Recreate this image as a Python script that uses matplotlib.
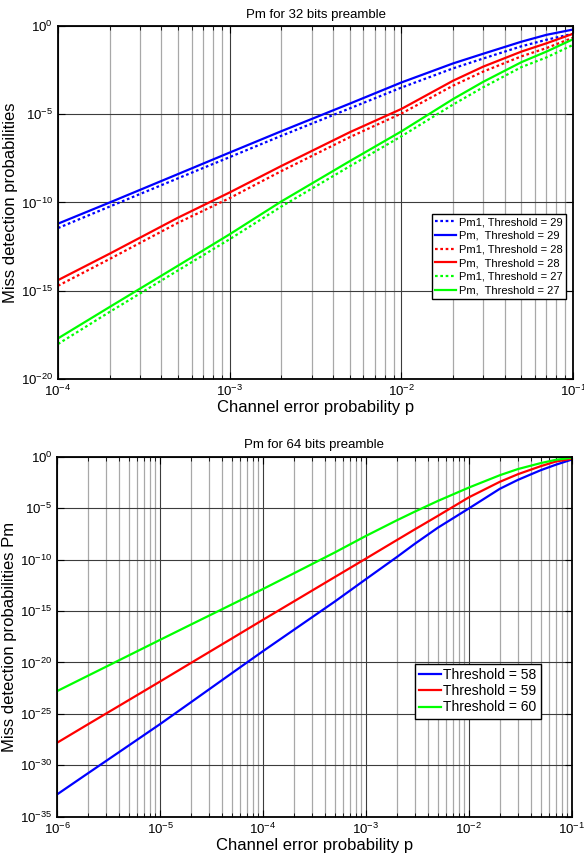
import numpy as np
import matplotlib
matplotlib.use('Agg')
import matplotlib.pyplot as plt
from matplotlib.ticker import LogLocator, NullLocator, FixedLocator

plt.rcParams['font.family'] = ['Liberation Sans', 'DejaVu Sans']
plt.rcParams['mathtext.fontset'] = 'custom'
plt.rcParams['mathtext.rm'] = 'Liberation Sans'
plt.rcParams['mathtext.it'] = 'Liberation Sans:italic'
plt.rcParams['mathtext.bf'] = 'Liberation Sans:bold'
plt.rcParams['axes.unicode_minus'] = False

# --- 32 bit preamble (values are log10 of the probability)
p32 = [1e-4, 2e-4, 5e-4, 1e-3, 2e-3, 5e-3, 1e-2, 2e-2, 3e-2, 5e-2, 7e-2, 1e-1]
pm1_t29 = [-11.45, -10.23, -8.63, -7.43, -6.22, -4.67, -3.49, -2.40, -1.84, -1.15, -0.78, -0.44]
pm_t29 = [-11.20, -10.00, -8.39, -7.17, -5.96, -4.40, -3.20, -2.12, -1.57, -0.89, -0.50, -0.20]
pm1_t28 = [-14.72, -13.20, -11.15, -9.75, -8.22, -6.30, -4.96, -3.38, -2.58, -1.72, -1.25, -0.66]
pm_t28 = [-14.40, -12.90, -10.86, -9.43, -7.93, -6.02, -4.70, -3.10, -2.30, -1.45, -0.98, -0.44]
pm1_t27 = [-18.02, -16.20, -13.85, -12.08, -10.23, -7.95, -6.25, -4.45, -3.47, -2.33, -1.78, -1.07]
pm_t27 = [-17.70, -15.92, -13.58, -11.80, -9.94, -7.66, -5.97, -4.14, -3.16, -2.05, -1.45, -0.75]

# --- 64 bit preamble
p64 = [1e-6, 2e-6, 5e-6, 1e-5, 2e-5, 5e-5, 1e-4, 2e-4, 5e-4,
       1e-3, 2e-3, 3e-3, 5e-3, 1e-2, 2e-2, 3e-2, 5e-2, 7e-2, 1e-1]
pm_t58 = [-32.82, -30.76, -28.05, -25.99, -23.86, -21.03, -18.90, -16.82, -14.07,
          -11.90, -9.75, -8.45, -6.90, -5.03, -3.12, -2.25, -1.31, -0.78, -0.28]
pm_t59 = [-27.80, -26.00, -23.64, -21.85, -20.04, -17.66, -15.85, -14.06, -11.69,
          -9.90, -8.10, -7.05, -5.75, -3.95, -2.44, -1.70, -0.92, -0.47, -0.20]
pm_t60 = [-22.78, -21.28, -19.30, -17.80, -16.31, -14.35, -12.86, -11.33, -9.30,
          -7.70, -6.18, -5.33, -4.30, -3.00, -1.80, -1.20, -0.62, -0.30, -0.10]

BLUE, RED, GREEN = '#0000ff', '#ff0000', '#00ff00'
DOT = (0, (1.2, 1.2))


def style_axes(ax, xlim, ylim, yticks):
    ax.set_xscale('log')
    ax.set_yscale('log')
    ax.set_xlim(xlim)
    ax.set_ylim(ylim)
    ax.yaxis.set_major_locator(FixedLocator(yticks))
    ax.yaxis.set_minor_locator(NullLocator())
    ax.xaxis.set_major_locator(LogLocator(base=10, numticks=20))
    ax.xaxis.set_minor_locator(LogLocator(base=10, subs=np.arange(2, 10), numticks=20))
    ax.grid(True, which='major', axis='both', color='#3c3c3c', lw=0.8)
    ax.grid(True, which='minor', axis='x', color='#a8a8a8', lw=0.9)
    ax.set_axisbelow(True)
    ax.tick_params(which='both', direction='in', top=True, right=True, labelsize=9.5)
    ax.tick_params(which='major', length=5)
    ax.tick_params(which='minor', length=3)
    for s in ax.spines.values():
        s.set_linewidth(1.3)


fig = plt.figure(figsize=(5.84, 8.58), dpi=100)

ax1 = fig.add_axes([0.0993, 0.5583, 0.882, 0.4114])
ax1.plot(p32, 10.0 ** np.array(pm1_t29), color=BLUE, ls=DOT, lw=1.6, label='Pm1, Threshold = 29')
ax1.plot(p32, 10.0 ** np.array(pm_t29), color=BLUE, lw=1.6, label='Pm,  Threshold = 29')
ax1.plot(p32, 10.0 ** np.array(pm1_t28), color=RED, ls=DOT, lw=1.6, label='Pm1, Threshold = 28')
ax1.plot(p32, 10.0 ** np.array(pm_t28), color=RED, lw=1.6, label='Pm,  Threshold = 28')
ax1.plot(p32, 10.0 ** np.array(pm1_t27), color=GREEN, ls=DOT, lw=1.6, label='Pm1, Threshold = 27')
ax1.plot(p32, 10.0 ** np.array(pm_t27), color=GREEN, lw=1.6, label='Pm,  Threshold = 27')
style_axes(ax1, (1e-4, 1e-1), (1e-20, 1e0), [1e-20, 1e-15, 1e-10, 1e-5, 1e0])
ax1.set_title('Pm for 32 bits preamble', fontsize=9.5, pad=6)
ax1.set_xlabel('Channel error probability p', fontsize=12, labelpad=1)
ax1.set_ylabel('Miss detection probabilities', fontsize=12, labelpad=2)
leg1 = ax1.legend(loc='upper right', bbox_to_anchor=(0.987, 0.468), fontsize=8,
                  frameon=True, fancybox=False, edgecolor='black', framealpha=1,
                  borderpad=0.3, labelspacing=0.33, handlelength=1.9,
                  handletextpad=0.3, borderaxespad=0)
leg1.get_frame().set_linewidth(1.0)

ax2 = fig.add_axes([0.098, 0.0481, 0.881, 0.4196])
ax2.plot(p64, 10.0 ** np.array(pm_t58), color=BLUE, lw=1.6, label='Threshold = 58')
ax2.plot(p64, 10.0 ** np.array(pm_t59), color=RED, lw=1.6, label='Threshold = 59')
ax2.plot(p64, 10.0 ** np.array(pm_t60), color=GREEN, lw=1.6, label='Threshold = 60')
style_axes(ax2, (1e-6, 1e-1), (1e-35, 1e0),
           [1e-35, 1e-30, 1e-25, 1e-20, 1e-15, 1e-10, 1e-5, 1e0])
ax2.set_title('Pm for 64 bits preamble', fontsize=9.5, pad=6)
ax2.set_xlabel('Channel error probability p', fontsize=12, labelpad=1)
ax2.set_ylabel('Miss detection probabilities Pm', fontsize=12, labelpad=2)
leg2 = ax2.legend(loc='upper right', bbox_to_anchor=(0.94, 0.424), fontsize=10,
                  frameon=True, fancybox=False, edgecolor='black', framealpha=1,
                  borderpad=0.3, labelspacing=0.15, handlelength=1.6,
                  handletextpad=0.15, borderaxespad=0)
leg2.get_frame().set_linewidth(1.0)

fig.savefig('out.png', dpi=100)
